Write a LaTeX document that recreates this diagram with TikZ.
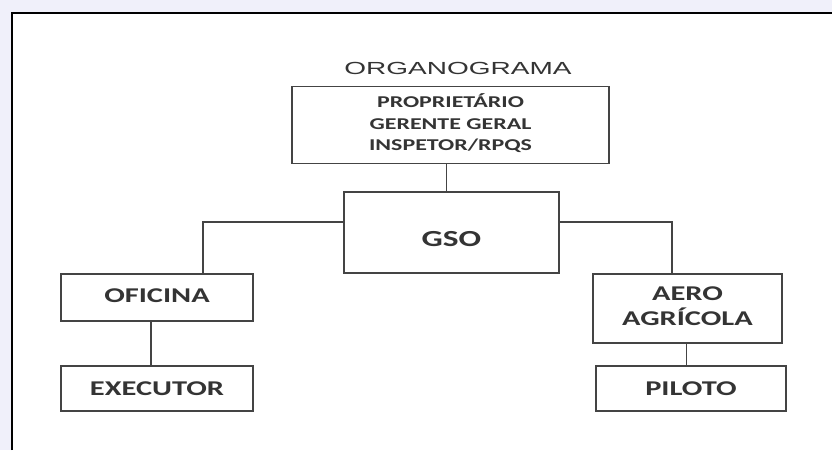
\documentclass[tikz,border=0pt]{standalone}
\usepackage{fontspec}
\setmainfont{Carlito}
\newfontfamily\titlefont{Liberation Sans}
\usepackage{graphicx}
\usepackage{xcolor}
\usepackage{tikz}
\usetikzlibrary{positioning}

\definecolor{backlilac}{RGB}{240,240,250}
\definecolor{boxline}{RGB}{68,68,68}
\definecolor{boxtext}{RGB}{52,52,52}
\newcommand{\wide}[1]{\scalebox{1.45}[1]{#1}}
\newcommand{\widelines}[1]{\wide{\begin{tabular}{@{}c@{}}#1\end{tabular}}}

\begin{document}
\begin{tikzpicture}[x=1pt,y=-1pt]
        \tikzstyle{unit}=[draw=boxline,line width=1.8pt,rectangle,fill=white,
            text=boxtext,inner sep=0pt,outer sep=0pt,
            font=\bfseries\fontsize{21}{23.5}\selectfont]
        \tikzstyle{link}=[draw=boxline,line width=1.8pt]
            \useasboundingbox (0,0) rectangle (832,450);
            \fill[backlilac] (0,0) rectangle (832,450);
            \fill[white] (12,13) rectangle (832,450);
            \draw[line width=2.6pt] (12,450) -- (12,13) -- (832,13);

            \node[text=boxtext, inner sep=0pt,
                font=\titlefont\fontsize{17.5}{20}\selectfont]
                (title) at (458,68) {\scalebox{1.6}[1]{ORGANOGRAMA}};

            \node[unit, minimum width=317pt, minimum height=77pt,
                font=\bfseries\fontsize{16.5}{21.5}\selectfont] (boss) at (450.5,125)
                {\widelines{PROPRIET\'ARIO\\GERENTE GERAL\\INSPETOR/RPQS}};
            \node[unit, minimum width=215pt, minimum height=81pt,
                font=\bfseries\fontsize{23}{26}\selectfont] (gso) at (451.5,232.5)
                {\raisebox{-6.5pt}[\height][\depth]{\wide{GSO}}};

            \node[unit, minimum width=192pt, minimum height=47pt] (oficina)
                at (157,297.5) {\raisebox{2pt}[\height][\depth]{\wide{OFICINA}}};
            \node[unit, minimum width=192pt, minimum height=45pt,
                below=45pt of oficina] (executor) {\wide{EXECUTOR}};

            \node[unit, minimum width=189pt, minimum height=69pt] (aero)
                at (687.5,308.5) {\widelines{AERO\\AGR\'ICOLA}};
            \node[unit, minimum width=190pt, minimum height=45pt,
                below=23pt of aero, xshift=3.5pt] (piloto) {\wide{PILOTO}};

            \draw[link] ([xshift=-4pt]boss.south)
                -- ([xshift=-4pt]boss.south |- gso.north);
            \draw[link] ([yshift=10.5pt]gso.west) -| ([xshift=46pt]oficina.north);
            \draw[link] ([yshift=10.5pt]gso.east) -| ([xshift=-15.5pt]aero.north);
            \draw[link] ([xshift=-6pt]oficina.south)
                -- ([xshift=-6pt]oficina.south |- executor.north);
            \draw[link] ([xshift=-1pt]aero.south)
                -- ([xshift=-1pt]aero.south |- piloto.north);
        \end{tikzpicture}
\end{document}
